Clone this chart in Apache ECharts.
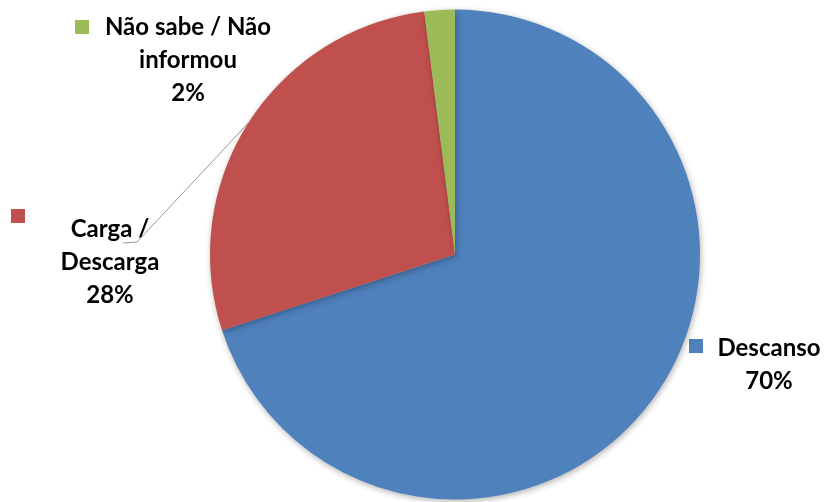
<!DOCTYPE html>
<html><head><meta charset="utf-8">
<script src="https://cdn.jsdelivr.net/npm/echarts@6/dist/echarts.min.js"></script>
<style>html,body{margin:0;padding:0;background:#fff}#c{width:826px;height:502px}</style>
</head><body><div id="c"></div>
<script>
const categories = ['Descanso', 'Carga / Descarga', 'Não sabe / Não informou'];
const labelTexts = ['Descanso', 'Carga /\nDescarga', 'Não sabe / Não\ninformou'];
const values = [70, 28, 2];
const colors = ['#4F81BD', '#C0504D', '#9BBB59'];

const labelPos = [[769, 365], [110, 262], [188, 60.5]];
const keyPos = [[689, 339], [11, 209], [75, 20]];

const total = values.reduce((a, b) => a + b, 0);
const chart = echarts.init(document.getElementById('c'));
chart.setOption({
  animation: false,
  backgroundColor: '#fff',
  series: [{
    type: 'pie',
    center: [455, 254.5],
    radius: 245,
    startAngle: 90,
    clockwise: true,
    avoidLabelOverlap: false,
    data: categories.map((c, i) => ({ name: c, value: values[i], itemStyle: { color: colors[i] } })),
    itemStyle: { shadowBlur: 6, shadowColor: 'rgba(0,0,0,0.3)', shadowOffsetX: 1, shadowOffsetY: 2 },
    emphasis: { disabled: true },
    label: {
      show: true,
      position: 'outside',
      formatter: p => labelTexts[p.dataIndex] + '\n' + Math.round(p.value / total * 100) + '%',
      fontFamily: 'Lato',
      fontWeight: 'bold',
      fontSize: 24,
      lineHeight: 33,
      color: '#000',
      align: 'center'
    },
    labelLine: { show: false },
    labelLayout: p => ({
      x: labelPos[p.dataIndex][0],
      y: labelPos[p.dataIndex][1],
      align: 'center',
      verticalAlign: 'middle'
    })
  }]
});

const data = chart.getModel().getSeriesByIndex(0).getData();
const lay = data.getItemLayout(1);
const mid = (lay.startAngle + lay.endAngle) / 2;
const edge = [lay.cx + lay.r * Math.cos(mid), lay.cy + lay.r * Math.sin(mid)];

const graphics = keyPos.map((k, i) => ({
  type: 'rect', shape: { x: k[0], y: k[1], width: 14, height: 14 },
  style: { fill: colors[i] }, silent: true
}));
graphics.push({
  type: 'polyline', shape: { points: [edge, [137, 242], [123, 243]] },
  style: { stroke: '#9a9a9a', lineWidth: 1, fill: null }, silent: true
});
chart.setOption({ graphic: graphics });
</script></body></html>
